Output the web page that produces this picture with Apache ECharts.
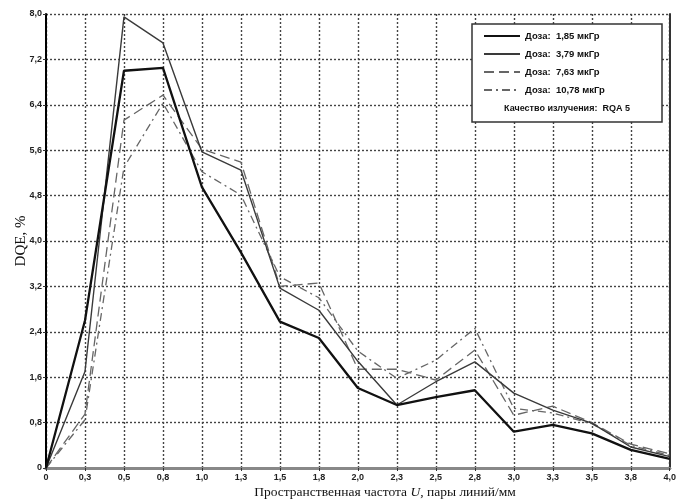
<!DOCTYPE html>
<html>
<head>
<meta charset="utf-8">
<script src="https://cdn.jsdelivr.net/npm/echarts@6/dist/echarts.min.js"></script>
<style>
html,body{margin:0;padding:0;background:#fff;}
#chart{width:679px;height:501px;}
</style>
</head>
<body>
<div id="chart"></div>
<script>
var xLabels = ['0','0,3','0,5','0,8','1,0','1,3','1,5','1,8','2,0','2,3','2,5','2,8','3,0','3,3','3,5','3,8','4,0'];
var yLabels = ['0','0,8','1,6','2,4','3,2','4,0','4,8','5,6','6,4','7,2','8,0'];
var seriesNames = ['Доза:  1,85 мкГр','Доза:  3,79 мкГр','Доза:  7,63 мкГр','Доза:  10,78 мкГр'];
var dose185  = [0, 2.60, 7.00, 7.05, 4.95, 3.80, 2.58, 2.29, 1.41, 1.11, 1.25, 1.37, 0.64, 0.76, 0.61, 0.32, 0.16];
var dose379  = [0, 1.70, 7.95, 7.49, 5.57, 5.25, 3.17, 2.78, 1.88, 1.11, 1.52, 1.87, 1.32, 1.02, 0.79, 0.37, 0.20];
var dose763  = [0, 0.95, 6.13, 6.57, 5.62, 5.39, 3.20, 3.26, 1.74, 1.74, 1.55, 2.08, 0.93, 1.09, 0.80, 0.42, 0.25];
var dose1078 = [0, 0.85, 5.30, 6.43, 5.22, 4.81, 3.37, 3.00, 2.06, 1.58, 1.90, 2.46, 1.05, 0.97, 0.78, 0.40, 0.22];
var qualityText = 'Качество излучения:  RQA 5';
var xTitle = ['Пространственная частота ', 'U', ', пары линий/мм'];
var yTitle = 'DQE, %';

var chart = echarts.init(document.getElementById('chart'), null, {renderer:'canvas'});
var lblFont = {fontFamily:'Liberation Sans, Arial, sans-serif', fontWeight:'bold', fontSize:9, color:'#222'};
var grid = {left:46, right:5, top:14, bottom:33, containLabel:false};

function mk(name, data, color, width, type, z){
  return {name:name, type:'line', data:data, xAxisIndex:0, yAxisIndex:0,
    symbol:'none', showSymbol:false, animation:false, z:z,
    lineStyle:{color:color, width:width, type:type}, itemStyle:{color:color}};
}

chart.setOption({
  animation:false,
  backgroundColor:'#fff',
  grid:grid,
  xAxis:[{
    type:'category', data:xLabels, boundaryGap:false, position:'bottom',
    axisLine:{show:true, onZero:false, lineStyle:{color:'#777', width:3}},
    axisTick:{show:true, length:3, alignWithLabel:true, lineStyle:{color:'#333', width:1}},
    axisLabel:Object.assign({margin:5, interval:0}, lblFont),
    splitLine:{show:true, lineStyle:{color:'#444', width:1.4, type:[2,2]}}
  },{
    type:'category', data:xLabels, boundaryGap:false, position:'top',
    axisLine:{show:true, lineStyle:{color:'#888', width:3}},
    axisTick:{show:false}, axisLabel:{show:false}, splitLine:{show:false}
  }],
  yAxis:[{
    type:'value', min:0, max:8, interval:0.8, position:'left',
    axisLine:{show:true, onZero:false, lineStyle:{color:'#000', width:2}},
    axisTick:{show:true, length:3, lineStyle:{color:'#333', width:1}},
    axisLabel:Object.assign({margin:4, formatter:function(v,i){return yLabels[i];}}, lblFont),
    splitLine:{show:true, lineStyle:{color:'#444', width:1.4, type:[2,2]}},
    name:yTitle, nameLocation:'middle', nameGap:17, nameMoveOverlap:false,
    nameTextStyle:{fontFamily:'Liberation Serif, Times New Roman, serif', fontSize:15, color:'#111'}
  },{
    type:'value', min:0, max:8, interval:0.8, position:'right',
    axisLine:{show:true, lineStyle:{color:'#333', width:2}},
    axisTick:{show:false}, axisLabel:{show:false}, splitLine:{show:false}
  }],
  legend:{
    orient:'vertical', left:478, top:26, itemWidth:36, itemHeight:10, itemGap:8, z:10,
    data:seriesNames,
    itemStyle:{opacity:0},
    textStyle:{fontFamily:'Liberation Sans, Arial, sans-serif', fontWeight:'bold', fontSize:9.5, color:'#111'}
  },
  graphic:[
    {type:'rect', z:5, shape:{x:472, y:24, width:190, height:98}, style:{fill:'#fff', stroke:'#333', lineWidth:1.5}},
    {type:'text', z:11, style:{x:567, y:109, text:qualityText, textAlign:'center', textVerticalAlign:'middle', fill:'#111', font:'bold 9px Liberation Sans, Arial, sans-serif'}},
    {type:'text', z:11, style:{x:385, y:492, textAlign:'center', textVerticalAlign:'middle',
      text:'{a|'+xTitle[0]+'}{i|'+xTitle[1]+'}{a|'+xTitle[2]+'}',
      rich:{a:{fontFamily:'Liberation Serif, Times New Roman, serif', fontSize:13.5, fill:'#111', color:'#111'},
            i:{fontFamily:'Liberation Serif, Times New Roman, serif', fontSize:13.5, fontStyle:'italic', fill:'#111', color:'#111'}}}}
  ],
  series:[
    mk(seriesNames[0], dose185, '#111', 2.3, 'solid', 6),
    mk(seriesNames[1], dose379, '#3a3a3a', 1.4, 'solid', 5),
    mk(seriesNames[2], dose763, '#666', 1.3, [10,5], 4),
    mk(seriesNames[3], dose1078, '#666', 1.3, [8,4,2,4], 3)
  ]
});
</script>
</body>
</html>
